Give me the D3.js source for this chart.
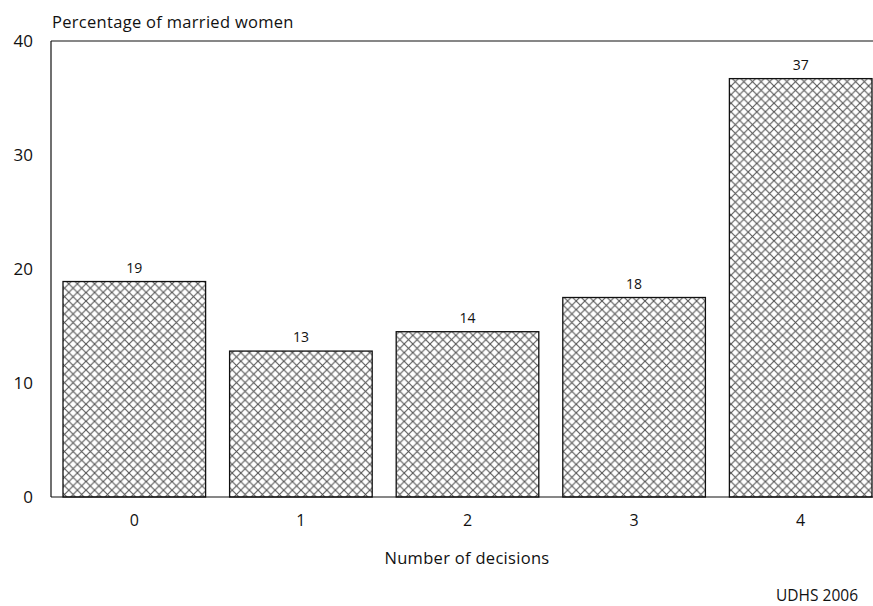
<!DOCTYPE html>
<html><head><meta charset="utf-8">
<script src="https://cdn.jsdelivr.net/npm/d3@7"></script>
<style>body{margin:0;background:#fff}svg{display:block}text{font-family:"Open Sans",Lato,sans-serif;fill:#111}</style>
</head><body>
<svg id="c" width="873" height="606"></svg>
<script>
const categories = ["0","1","2","3","4"];
const values = [18.9, 12.8, 14.5, 17.5, 36.7];
const valueLabels = ["19","13","14","18","37"];
const yTicks = [0,10,20,30,40];

const svg = d3.select("#c");
const mLeft = 51, mTop = 41, mBottom = 497, mRight = 884;
const x = d3.scaleBand().domain(categories).range([mLeft, mRight]).paddingInner(0.144).paddingOuter(0.072);
const y = d3.scaleLinear().domain([0,40]).range([mBottom, mTop]);

const defs = svg.append("defs");
const pat = defs.append("pattern").attr("id","hatch").attr("patternUnits","userSpaceOnUse")
  .attr("width",8.6).attr("height",8.6);
pat.append("rect").attr("width",8.6).attr("height",8.6).attr("fill","#fff");
pat.append("path").attr("d","M0,0L8.6,8.6M8.6,0L0,8.6").attr("stroke","#555").attr("stroke-width",1.1);

// bars
svg.selectAll("rect.bar").data(categories).enter().append("rect").attr("class","bar")
  .attr("x", d=>x(d)).attr("width", x.bandwidth())
  .attr("y", (d,i)=>y(values[i])).attr("height",(d,i)=>y(0)-y(values[i]))
  .attr("fill","url(#hatch)").attr("stroke","#111").attr("stroke-width",1.3);

// value labels
svg.selectAll("text.val").data(categories).enter().append("text").attr("class","val")
  .attr("x", d=>x(d)+x.bandwidth()/2).attr("y",(d,i)=>y(values[i])-9)
  .attr("text-anchor","middle").attr("font-size",14).text((d,i)=>valueLabels[i]);

// frame lines
svg.append("line").attr("x1",mLeft).attr("x2",873).attr("y1",y(40)).attr("y2",y(40)).attr("stroke","#111").attr("stroke-width",1.2);
svg.append("line").attr("x1",mLeft).attr("x2",873).attr("y1",y(0)).attr("y2",y(0)).attr("stroke","#111").attr("stroke-width",1.2);
svg.append("line").attr("x1",mLeft).attr("x2",mLeft).attr("y1",y(0)).attr("y2",y(40)).attr("stroke","#111").attr("stroke-width",1.2);

// y axis labels
const yAxis = d3.axisLeft(y).tickValues(yTicks).tickSize(0).tickPadding(18);
const ga = svg.append("g").attr("transform",`translate(${mLeft},0)`).call(yAxis);
ga.select(".domain").remove();
ga.selectAll("text").attr("font-size",17).attr("font-family","'Open Sans', sans-serif").attr("fill","#111");

// x axis labels
const xAxis = d3.axisBottom(x).tickSize(0).tickPadding(18);
const gx = svg.append("g").attr("transform",`translate(0,${mBottom})`).call(xAxis);
gx.select(".domain").remove();
gx.selectAll("text").attr("font-size",16).attr("font-family","'Open Sans', sans-serif").attr("fill","#111");

svg.append("text").attr("x",52).attr("y",28).attr("font-size",16.5).attr("letter-spacing",0.3).text("Percentage of married women");
svg.append("text").attr("x",467).attr("y",564).attr("text-anchor","middle").attr("font-size",16.5).attr("letter-spacing",0.3).text("Number of decisions");
svg.append("text").attr("x",858).attr("y",601).attr("text-anchor","end").attr("font-size",15.5).text("UDHS 2006");
</script>
</body></html>
